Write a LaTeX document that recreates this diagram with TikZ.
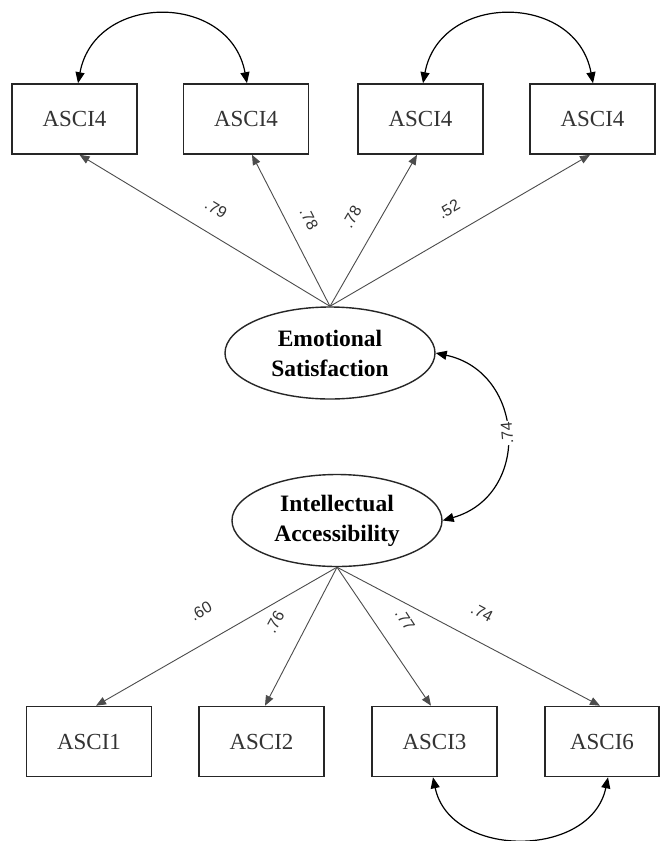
\documentclass[tikz,border=0pt]{standalone}
\usepackage{fontspec}
\setmainfont{Liberation Serif}
\newfontfamily\lblfont{Liberation Sans}
\usetikzlibrary{arrows.meta,shapes.geometric,calc}
\begin{document}
\begin{tikzpicture}[x=1pt,y=-1pt,
  obs/.style={draw=black!85, line width=1.6pt, minimum width=125pt, minimum height=70pt, inner sep=0pt, font=\fontsize{23}{26}\selectfont, text=black!80},
  lat/.style={draw=black!85, ellipse, line width=1.4pt, minimum width=210pt, minimum height=92pt, inner sep=0pt, align=center, font=\fontsize{23.5}{30}\selectfont\bfseries},
  load/.style={draw=black!70, line width=0.9pt, -{Triangle[length=10pt,width=8pt]}},
  cov/.style={draw=black, line width=1.2pt, {Triangle[length=11pt,width=9pt]}-{Triangle[length=11pt,width=9pt]}},
  coef/.style={font=\lblfont\fontsize{16}{16}\selectfont, text=black!80, inner sep=1pt}
]
\useasboundingbox[fill=white] (0,0) rectangle (660,841);

% top observed
\node[obs] (b1) at (74.5,119) {ASCI4};
\node[obs] (b2) at (246,119) {ASCI4};
\node[obs] (b3) at (420.5,119) {ASCI4};
\node[obs] (b4) at (592.5,119) {ASCI4};

% bottom observed
\node[obs] (c1) at (89,741.5) {ASCI1};
\node[obs] (c2) at (261.5,741.5) {ASCI2};
\node[obs] (c3) at (434.5,741.5) {ASCI3};
\node[obs, minimum width=114pt] (c4) at (602,741.5) {ASCI6};

% latent
\node[lat] (es) at (330,353) {Emotional\\Satisfaction};
\node[lat] (ia) at (337,520.5) {Intellectual\\Accessibility};

% loadings top
\draw[load] (es.north) -- ([xshift=5pt]b1.south);
\draw[load] (es.north) -- ([xshift=6pt]b2.south);
\draw[load] (es.north) -- ([xshift=-3.5pt]b3.south);
\draw[load] (es.north) -- ([xshift=-2.5pt]b4.south);

% loadings bottom
\draw[load] (ia.south) -- ([xshift=7pt]c1.north);
\draw[load] (ia.south) -- ([xshift=3.5pt]c2.north);
\draw[load] (ia.south) -- ([xshift=-3.5pt]c3.north);
\draw[load] (ia.south) -- ([xshift=-2pt]c4.north);

% covariances
\draw[cov] ([xshift=3.5pt]b1.north) .. controls (95,-8) and (230,-8) .. ([xshift=1pt]b2.north);
\draw[cov] ([xshift=2.5pt]b3.north) .. controls (440,-8) and (576,-8) .. ([xshift=0.5pt]b4.north);
\draw[cov] ([xshift=-1.5pt]c3.south) .. controls (450,859) and (591,859) .. ([xshift=6pt]c4.south);
\draw[cov] (es.east) .. controls (525,372) and (532,495) .. (ia.east);

% coefficients
\node[coef, rotate=-31] (l1) at (216,209) {.79};
\node[coef, rotate=-63] (l2) at (309,219) {.78};
\node[coef, rotate=60] (l3) at (352,217) {.78};
\node[coef, rotate=30] (l4) at (449,209) {.52};
\node[coef, rotate=30] (l5) at (201,611) {.60};
\node[coef, rotate=62] (l6) at (275,622) {.76};
\node[coef, rotate=-57] (l7) at (405,620) {.77};
\node[coef, rotate=-28] (l8) at (482,613) {.74};
\node[coef, rotate=95, fill=white] (l9) at (507,433) {.74};
\end{tikzpicture}
\end{document}
